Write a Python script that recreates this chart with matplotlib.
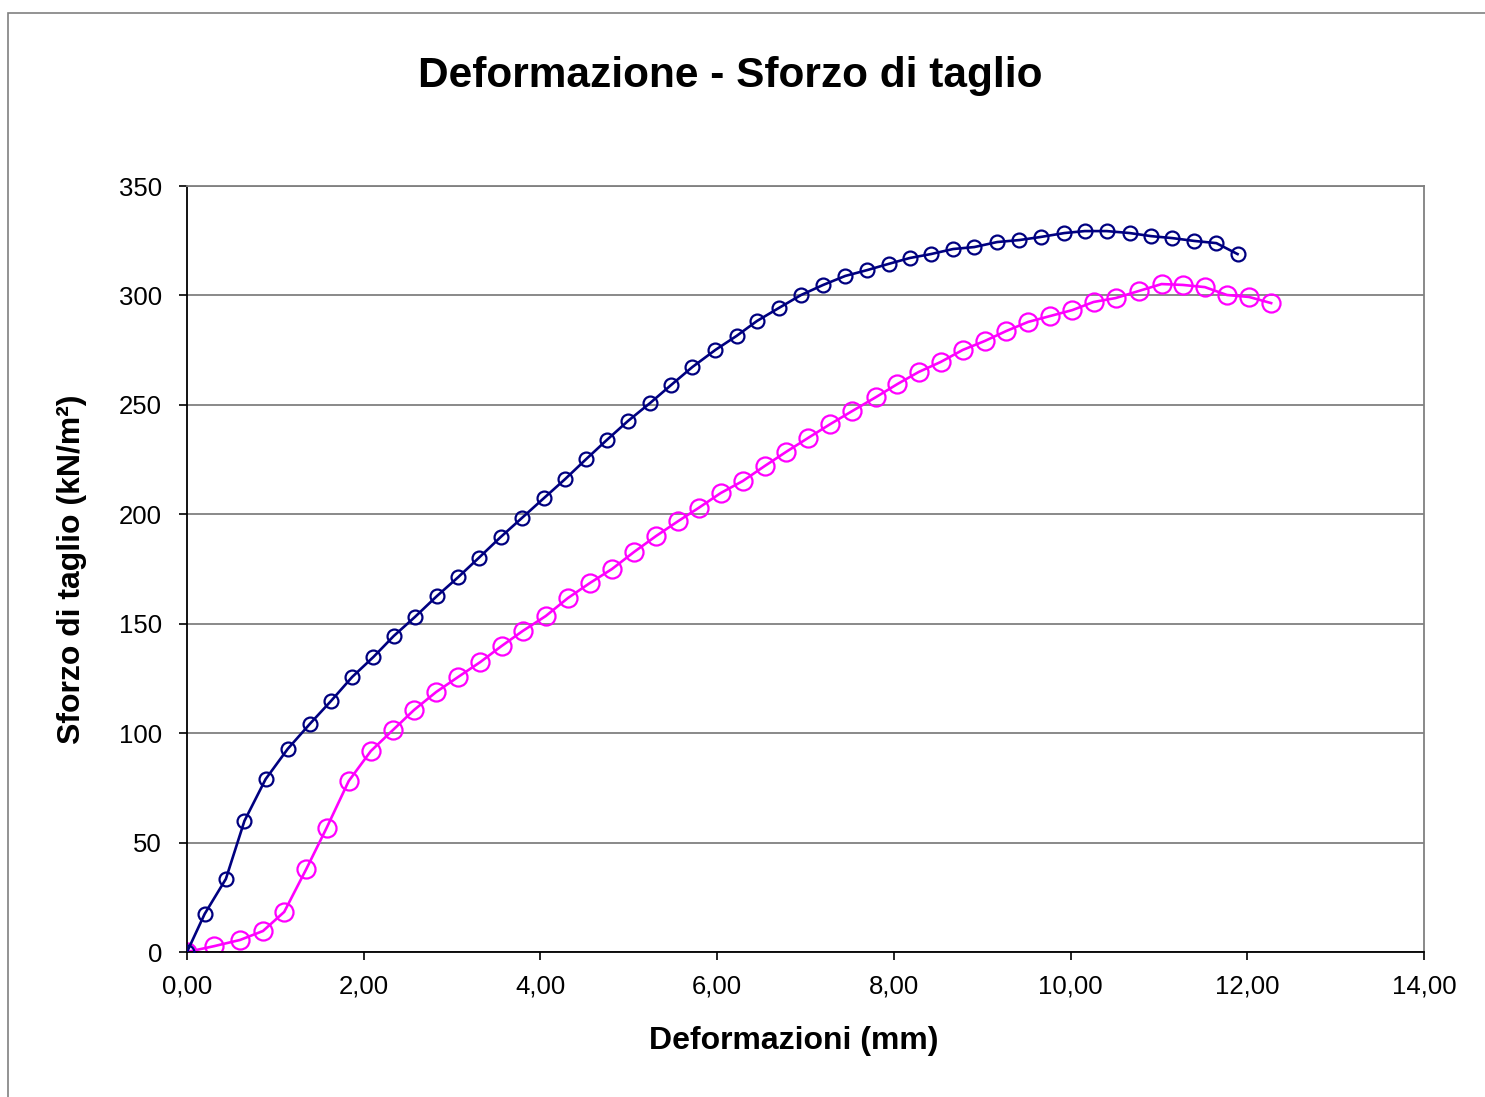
import matplotlib.pyplot as plt
from matplotlib.patches import Rectangle

plt.rcParams['font.family'] = ['Liberation Sans', 'DejaVu Sans']

# serie 1 (blu)
def_1 = [0.00, 0.20, 0.44, 0.65, 0.89, 1.14, 1.39, 1.63, 1.87, 2.11, 2.34, 2.58,
         2.83, 3.07, 3.30, 3.55, 3.79, 4.04, 4.28, 4.52, 4.75, 4.99, 5.24, 5.48,
         5.72, 5.98, 6.22, 6.45, 6.70, 6.95, 7.20, 7.45, 7.70, 7.94, 8.18, 8.42,
         8.67, 8.91, 9.17, 9.42, 9.66, 9.93, 10.16, 10.41, 10.67, 10.91, 11.15,
         11.40, 11.65, 11.89]
sforzo_1 = [0.0, 17.4, 33.4, 59.9, 79.0, 92.8, 104.2, 114.7, 125.7, 134.8, 144.4,
            153.1, 162.7, 171.3, 180.0, 189.6, 198.3, 207.4, 216.1, 225.3, 233.9,
            242.6, 250.8, 259.1, 267.3, 275.1, 281.5, 288.3, 294.3, 300.2, 304.8,
            308.9, 311.6, 314.4, 317.1, 318.9, 321.2, 322.1, 324.4, 325.3, 326.7,
            328.5, 329.4, 329.4, 328.5, 327.1, 326.2, 324.9, 323.9, 318.9]

# serie 2 (magenta)
def_2 = [0.00, 0.31, 0.60, 0.86, 1.10, 1.35, 1.58, 1.83, 2.08, 2.33, 2.57, 2.82,
         3.07, 3.32, 3.56, 3.80, 4.06, 4.31, 4.56, 4.81, 5.06, 5.31, 5.56, 5.79,
         6.04, 6.29, 6.54, 6.78, 7.03, 7.28, 7.53, 7.80, 8.04, 8.28, 8.53, 8.78,
         9.03, 9.27, 9.52, 9.77, 10.02, 10.26, 10.51, 10.77, 11.03, 11.27, 11.52,
         11.77, 12.02, 12.27]
sforzo_2 = [0.0, 2.7, 5.5, 9.6, 18.3, 37.9, 56.7, 78.1, 91.8, 101.4, 110.6, 118.8,
            125.7, 132.5, 139.8, 146.7, 153.5, 161.7, 168.6, 175.0, 182.8, 190.1,
            196.9, 202.9, 209.7, 215.2, 222.1, 228.5, 234.9, 241.2, 247.2, 253.6,
            259.5, 265.0, 269.6, 275.1, 279.2, 283.7, 287.9, 290.6, 293.3, 297.0,
            298.8, 302.0, 305.2, 304.8, 303.8, 300.2, 299.3, 296.5]

x_ticks = [0, 2, 4, 6, 8, 10, 12, 14]
x_labels = ['0,00', '2,00', '4,00', '6,00', '8,00', '10,00', '12,00', '14,00']
y_ticks = [0, 50, 100, 150, 200, 250, 300, 350]

fig = plt.figure(figsize=(14.85, 10.97), dpi=100)
ax = fig.add_axes([187/1485, 1 - 952/1097, (1424 - 187)/1485, (952 - 186)/1097])

# cornice esterna del grafico
fig.patches.append(Rectangle((8/1485, -0.05), 1.1, 1 - 13/1097 + 0.05,
                             transform=fig.transFigure, fill=False,
                             edgecolor='#808080', linewidth=1.2))

ax.plot(def_1, sforzo_1, color='#000080', linewidth=1.9, marker='o',
        markersize=10, markerfacecolor='none', markeredgecolor='#000080',
        markeredgewidth=1.6, zorder=3)
ax.plot(def_2, sforzo_2, color='#FF00FF', linewidth=1.9, marker='o',
        markersize=13, markerfacecolor='none', markeredgecolor='#FF00FF',
        markeredgewidth=1.6, zorder=2)

ax.set_xlim(0, 14)
ax.set_ylim(0, 350)
ax.set_xticks(x_ticks)
ax.set_xticklabels(x_labels)
ax.set_yticks(y_ticks)
ax.tick_params(labelsize=18.5, length=6, width=1.2, color='black')
ax.tick_params(axis='x', pad=10)
ax.tick_params(axis='y', pad=12)
ax.grid(axis='y', color='#808080', linewidth=1.3)
ax.set_axisbelow(True)

for s in ['top', 'right']:
    ax.spines[s].set_color('#808080')
    ax.spines[s].set_linewidth(1.3)
for s in ['left', 'bottom']:
    ax.spines[s].set_color('black')
    ax.spines[s].set_linewidth(1.3)

ax.set_xlabel('Deformazioni (mm)', fontsize=23, fontweight='bold', labelpad=20)
ax.xaxis.label.set_x((794 - 187) / (1424 - 187))
ax.set_ylabel('Sforzo di taglio (kN/m²)', fontsize=23, fontweight='bold', labelpad=23)

fig.text(730/1485, 1 - 76/1097, 'Deformazione - Sforzo di taglio', fontsize=30.5,
         fontweight='bold', ha='center', va='center')

fig.savefig('out.png', dpi=100)
